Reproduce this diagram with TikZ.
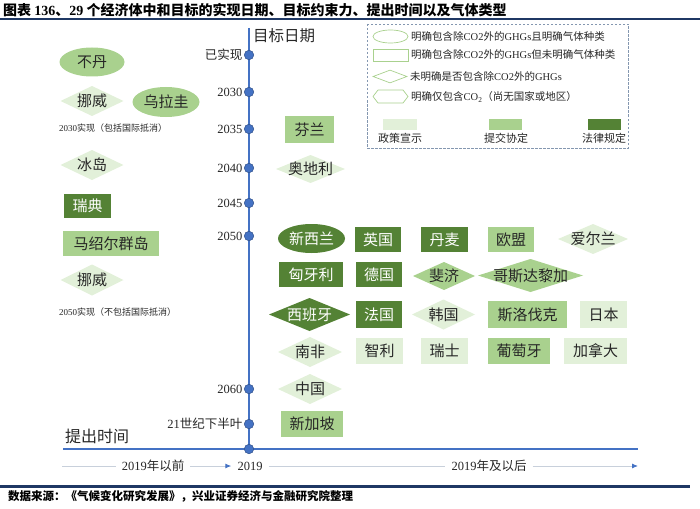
\documentclass[tikz,border=0pt]{standalone}
\usepackage{fontspec}
\setmainfont{Noto Sans CJK SC}
\newfontfamily\lat{Liberation Serif}
\usepackage{tikz}
\usetikzlibrary{shapes.geometric,arrows.meta}
\definecolor{polg}{HTML}{E2F0D9}
\definecolor{subg}{HTML}{A9D18E}
\definecolor{lawg}{HTML}{548235}
\definecolor{tlblue}{HTML}{4472C4}
\definecolor{navy}{HTML}{1F3864}
\definecolor{lgframe}{HTML}{8497B0}
\definecolor{txt}{HTML}{262626}

\begin{document}
\begin{tikzpicture}[x=1pt, y=-1pt,
  lbl/.style={inner sep=0pt, text=txt, font=\fontsize{15}{15}\selectfont},
  box/.style={lbl, rectangle, fill=#1},
  oval/.style={lbl, ellipse, fill=#1},
  dmd/.style={lbl, rectangle, path picture={\fill[#1] (path picture bounding box.north)
      -- (path picture bounding box.east) -- (path picture bounding box.south)
      -- (path picture bounding box.west) -- cycle;}},
  wt/.style={text=white},
  yr/.style={inner sep=0pt, anchor=east, text=txt, font=\fontsize{12.5}{12.5}\selectfont},
  dot/.style={circle, fill=tlblue, draw=tlblue!70!black, line width=0.5pt,
              inner sep=0pt, minimum size=9.5pt},
  note/.style={inner sep=0pt, anchor=west, text=txt, font=\fontsize{9}{9}\selectfont},
  lgtxt/.style={inner sep=0pt, anchor=west, text=txt, font=\fontsize{10.5}{10.5}\selectfont},
  lgshape/.style={draw=subg, fill=white, line width=0.7pt, inner sep=0pt},
  swlbl/.style={inner sep=0pt, text=txt, font=\fontsize{11}{11}\selectfont},
  axlbl/.style={inner xsep=6pt, inner ysep=0pt, text=txt, font=\fontsize{12.5}{12.5}\selectfont},
  tarr/.style={draw=lgframe!45, line width=0.9pt},
  tip/.style={-{Latex[length=6pt, width=5pt, color=tlblue]}},
]
\useasboundingbox (0,0) rectangle (700,508);
% --- Title and rules ---
\node[inner sep=0pt, anchor=west, font=\fontsize{14}{14}\selectfont\bfseries] (title) at (3,10)
  {图表 {\lat 136}、{\lat 29} 个经济体中和目标的实现日期、目标约束力、提出时间以及气体类型};
\draw[navy, line width=1.2pt] (0,19) -- (700,19);
\draw[navy, line width=3pt] (0,486) -- (690,486);
\node[inner sep=0pt, anchor=west, font=\fontsize{11.5}{11.5}\selectfont\bfseries] (src) at (8,496)
  {数据来源：《气候变化研究发展》，兴业证券经济与金融研究院整理};
% --- Axes ---
\coordinate (vtop) at (249,28);
\coordinate (orig) at (249,449);
\coordinate (axl) at (63,449);
\coordinate (axr) at (638,449);
\draw[tlblue, line width=2pt] (vtop) -- (orig);
\draw[tlblue, line width=2.5pt] (axl) -- (axr);
\node[inner sep=0pt, anchor=west, text=txt, font=\fontsize{15.5}{15.5}\selectfont] (tgt) at (253,36) {目标日期};
\node[inner sep=0pt, anchor=west, text=txt, font=\fontsize{16}{16}\selectfont] (prop) at (65,436) {提出时间};
\foreach \y/\t [count=\i] in {55/已实现, 92/{\lat 2030}, 129/{\lat 2035}, 168/{\lat 2040},
    203/{\lat 2045}, 236/{\lat 2050}, 389/{\lat 2060}, 424/{{\lat 21}世纪下半叶}} {
  \node[dot] (d\i) at (249,\y) {};
  \node[yr] (y\i) at ([xshift=-1.5]d\i.west) {\t};
}
\node[dot] (d0) at (orig) {};
% --- Proposal time row ---
\coordinate (bl) at (62,466);
\coordinate (br) at (638,466);
\node[axlbl] (pre) at (153,466) {{\lat 2019}年以前};
\node[axlbl] (now) at (250,466) {\lat 2019};
\node[axlbl] (post) at (489,466) {{\lat 2019}年及以后};
\draw[tarr] (bl) -- (pre);
\draw[tarr, tip] (pre) -- (now);
\draw[tarr] (now) -- (post);
\draw[tarr, tip] (post) -- (br);
% --- Left column (before 2019) ---
\node[oval=subg, minimum width=65, minimum height=29] (btn) at (92,62) {不丹};
\node[dmd=polg, minimum width=63, minimum height=30] (nor1) at (92,101) {挪威};
\node[oval=subg, minimum width=67, minimum height=30] (ury) at (166,102) {乌拉圭};
\node[note] (note1) at (59,128) {{\lat 2030}实现（包括国际抵消）};
\node[dmd=polg, minimum width=63, minimum height=30] (isl) at (92,165) {冰岛};
\node[box=lawg, wt, minimum width=47, minimum height=24] (swe) at (87.5,206) {瑞典};
\node[box=subg, minimum width=96, minimum height=25] (mhl) at (111,243.5) {马绍尔群岛};
\node[dmd=polg, minimum width=63, minimum height=31] (nor2) at (92,280) {挪威};
\node[note] (note2) at (59,312) {{\lat 2050}实现（不包括国际抵消）};
% --- Right block (2019 and after) ---
\node[box=subg, minimum width=49, minimum height=27] (fin) at (309.5,129.5) {芬兰};
\node[dmd=polg, minimum width=69, minimum height=28] (aut) at (310.5,169) {奥地利};
% row 2050 a
\node[oval=lawg, wt, minimum width=67, minimum height=29] (nzl) at (311.5,238.5) {新西兰};
\node[box=lawg, wt, minimum width=46, minimum height=25] (gbr) at (378,239.5) {英国};
\node[box=lawg, wt, minimum width=47, minimum height=25] (dnk) at (444.5,239.5) {丹麦};
\node[box=subg, minimum width=46, minimum height=25] (eu) at (511,239.5) {欧盟};
\node[dmd=polg, minimum width=70, minimum height=30] (irl) at (593,239) {爱尔兰};
% row 2050 b
\node[box=lawg, wt, minimum width=64, minimum height=25] (hun) at (311,274.5) {匈牙利};
\node[box=lawg, wt, minimum width=46, minimum height=25] (deu) at (379,274.5) {德国};
\node[dmd=subg, minimum width=62, minimum height=28] (fji) at (444,276) {斐济};
\node[dmd=subg, minimum width=105, minimum height=33] (cri) at (530.5,275.5) {哥斯达黎加};
% row 2050 c
\node[dmd=lawg, wt, minimum width=81, minimum height=33] (esp) at (309.5,314.5) {西班牙};
\node[box=lawg, wt, minimum width=46, minimum height=27] (fra) at (379,314.5) {法国};
\node[dmd=polg, minimum width=63, minimum height=30] (kor) at (443.5,314.5) {韩国};
\node[box=subg, minimum width=79, minimum height=27] (svk) at (527.5,314.5) {斯洛伐克};
\node[box=polg, minimum width=47, minimum height=27] (jpn) at (603.5,314.5) {日本};
% row 2050 d
\node[dmd=polg, minimum width=64, minimum height=30] (zaf) at (310,352) {南非};
\node[box=polg, minimum width=47, minimum height=26] (chl) at (379.5,351) {智利};
\node[box=polg, minimum width=47, minimum height=26] (che) at (444.5,351) {瑞士};
\node[box=subg, minimum width=62, minimum height=26] (prt) at (519,351) {葡萄牙};
\node[box=polg, minimum width=63, minimum height=26] (can) at (595.5,351) {加拿大};
% 2060 and later
\node[dmd=polg, minimum width=64, minimum height=30] (chn) at (310,389) {中国};
\node[box=subg, minimum width=62, minimum height=26] (sgp) at (312,424) {新加坡};
% --- Legend ---
\draw[lgframe, line width=0.8pt, dash pattern=on 2.5pt off 1.5pt] (367,24) rectangle (628,148);
\node[lgshape, ellipse, minimum width=35, minimum height=13] (lgE) at (390.5,36.5) {};
\node[lgshape, rectangle, minimum width=35, minimum height=12] (lgR) at (390.5,55) {};
\node[lgshape, diamond, minimum width=34, minimum height=13] (lgD) at (390,76.5) {};
\draw[subg, fill=white, line width=0.7pt]
  (373,96.5) -- (378,90) -- (403,90) -- (408,96.5) -- (403,103) -- (378,103) -- cycle;
\node[lgtxt] (lgE t) at (411,37) {明确包含除{\lat CO2}外的{\lat GHGs}且明确气体种类};
\node[lgtxt] (lgR t) at (411,55) {明确包含除{\lat CO2}外的{\lat GHGs}但未明确气体种类};
\node[lgtxt] (lgD t) at (410,76.5) {未明确是否包含除{\lat CO2}外的{\lat GHGs}};
\node[lgtxt] (lgH t) at (411,97) {明确仅包含{\lat CO\textsubscript{2}}（尚无国家或地区）};
\node[box=polg, minimum width=34, minimum height=11] (swP) at (400,124.5) {};
\node[box=subg, minimum width=33, minimum height=11] (swS) at (505.5,124.5) {};
\node[box=lawg, minimum width=33, minimum height=11] (swL) at (604.5,124.5) {};
\node[swlbl] at (400,138) {政策宣示};
\node[swlbl] at (506,138) {提交协定};
\node[swlbl] at (604,138) {法律规定};
\end{tikzpicture}
\end{document}
